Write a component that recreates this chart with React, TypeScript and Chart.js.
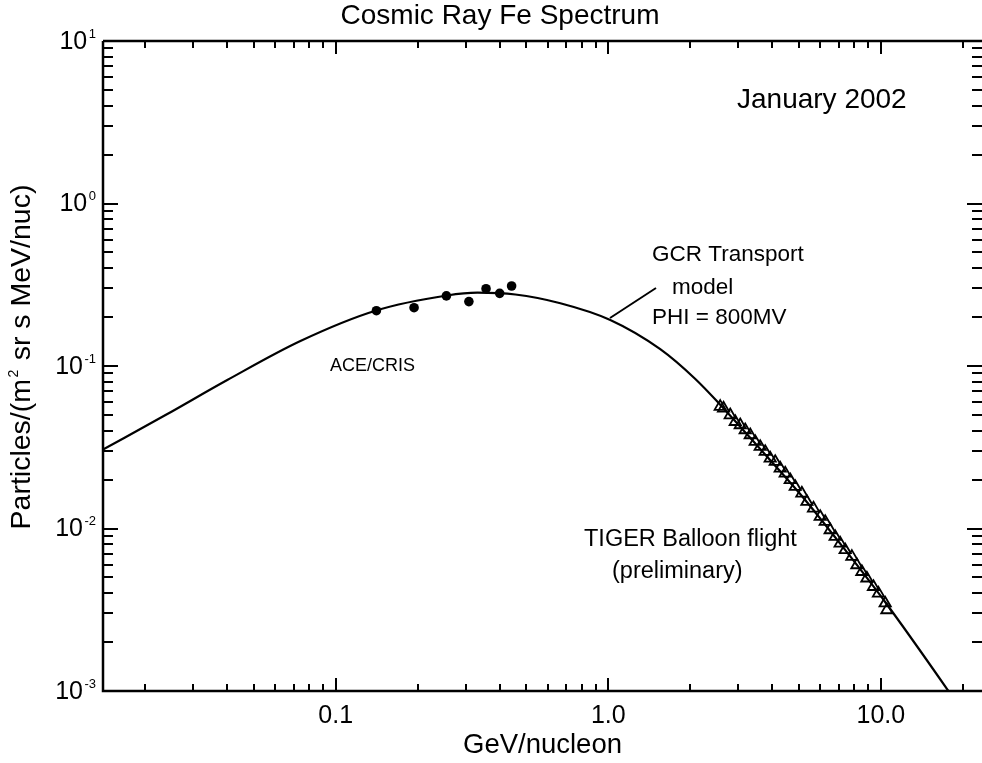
import React, { useEffect, useRef } from "react";
import { Chart, registerables } from "chart.js";
Chart.register(...registerables);

// GCR transport model curve (GeV/nucleon, particles/(m^2 sr s MeV/nuc))
const modelEnergy = [0.01405, 0.02374, 0.04, 0.0742, 0.1398, 0.256, 0.331, 0.456, 0.667, 1.017, 1.551, 2.086, 2.574, 3.608, 5.058, 7.396, 10.37, 17.7, 23.5];
const modelFlux = [0.0307, 0.0499, 0.082, 0.1425, 0.2188, 0.2716, 0.2825, 0.2754, 0.2433, 0.1919, 0.1269, 0.0832, 0.0578, 0.03084, 0.01631, 0.00738, 0.00353, 0.001, 0.0005];

// ACE/CRIS points
const aceEnergy = [0.141, 0.1938, 0.2547, 0.308, 0.356, 0.3995, 0.4418];
const aceFlux = [0.219, 0.2285, 0.27, 0.249, 0.299, 0.28, 0.3107];

// TIGER balloon flight (preliminary)
const tigerEnergy = [2.574, 2.647, 2.801, 2.922, 3.048, 3.179, 3.317, 3.459, 3.608, 3.764, 3.926, 4.096, 4.272, 4.457, 4.65, 4.851, 5.13, 5.353, 5.66, 5.99, 6.248, 6.516, 6.797, 7.09, 7.396, 7.828, 8.166, 8.516, 8.884, 9.393, 9.8, 10.37, 10.52];
const tigerFlux = [0.0562, 0.0549, 0.0499, 0.0454, 0.04335, 0.04038, 0.03762, 0.0342, 0.03187, 0.0297, 0.02704, 0.02577, 0.02347, 0.02186, 0.01989, 0.01808, 0.01647, 0.01462, 0.01331, 0.01182, 0.01101, 0.00979, 0.0089, 0.00811, 0.00738, 0.00671, 0.00596, 0.00542, 0.00494, 0.00438, 0.00399, 0.00347, 0.00315];

// Axes
const xMin = 0.014;
const xMax = 23.5;
const yMin = 0.001;
const yMax = 10;
const xTickValues = [0.1, 1, 10];
const xTickLabels = ["0.1", "1.0", "10.0"];
const yTickValues = [10, 1, 0.1, 0.01, 0.001];
const yTickExponents = ["1", "0", "-1", "-2", "-3"];

const FONT = '"Liberation Sans", Arial, Helvetica, sans-serif';

function minorValues(min: number, max: number): number[] {
  const out: number[] = [];
  for (let e = -3; e <= 2; e++) {
    for (let k = 2; k <= 9; k++) {
      const v = k * Math.pow(10, e);
      if (v > min && v < max) out.push(v);
    }
  }
  return out;
}

const idlPlugin = {
  id: "idlFrame",
  afterDraw(chart: any) {
    const { ctx, chartArea: a, scales } = chart;
    const xs = scales.x;
    const ys = scales.y;
    ctx.save();
    ctx.strokeStyle = "#000";
    ctx.fillStyle = "#000";
    ctx.lineCap = "butt";

    // frame
    ctx.lineWidth = 2.5;
    ctx.beginPath();
    ctx.moveTo(a.left, a.top);
    ctx.lineTo(a.left, a.bottom);
    ctx.lineTo(a.right + 2, a.bottom);
    ctx.moveTo(a.left, a.top);
    ctx.lineTo(a.right + 2, a.top);
    ctx.stroke();

    // ticks
    ctx.lineWidth = 2;
    const xMajLen = 13, xMinLen = 7, yMajLen = 15, yMinLen = 10;
    ctx.beginPath();
    for (const v of xTickValues) {
      const px = Math.round(xs.getPixelForValue(v));
      ctx.moveTo(px, a.bottom); ctx.lineTo(px, a.bottom - xMajLen);
      ctx.moveTo(px, a.top); ctx.lineTo(px, a.top + xMajLen);
    }
    for (const v of minorValues(xMin, xMax)) {
      const px = Math.round(xs.getPixelForValue(v));
      ctx.moveTo(px, a.bottom); ctx.lineTo(px, a.bottom - xMinLen);
      ctx.moveTo(px, a.top); ctx.lineTo(px, a.top + xMinLen);
    }
    for (const v of yTickValues) {
      const py = Math.round(ys.getPixelForValue(v));
      ctx.moveTo(a.left, py); ctx.lineTo(a.left + yMajLen, py);
      ctx.moveTo(a.right, py); ctx.lineTo(a.right - yMajLen, py);
    }
    for (const v of minorValues(yMin, yMax)) {
      const py = Math.round(ys.getPixelForValue(v));
      ctx.moveTo(a.left, py); ctx.lineTo(a.left + yMinLen, py);
      ctx.moveTo(a.right, py); ctx.lineTo(a.right - yMinLen, py);
    }
    ctx.stroke();

    // x tick labels
    ctx.font = `25px ${FONT}`;
    ctx.textAlign = "center";
    ctx.textBaseline = "middle";
    xTickValues.forEach((v, i) => {
      ctx.fillText(xTickLabels[i], xs.getPixelForValue(v), a.bottom + 25);
    });

    // y tick labels 10^n
    yTickValues.forEach((v, i) => {
      const py = ys.getPixelForValue(v);
      ctx.font = `13px ${FONT}`;
      const sup = yTickExponents[i];
      const sw = ctx.measureText(sup).width;
      ctx.textAlign = "right";
      ctx.textBaseline = "middle";
      ctx.fillText(sup, 96, py - 7);
      ctx.font = `25px ${FONT}`;
      ctx.fillText("10", 96 - sw - 1.5, py + 1);
    });

    // title
    ctx.font = `28px ${FONT}`;
    ctx.textAlign = "center";
    ctx.textBaseline = "middle";
    ctx.fillText("Cosmic Ray Fe Spectrum", 500, 16);

    // x title
    ctx.font = `27.5px ${FONT}`;
    ctx.fillText("GeV/nucleon", (a.left + a.right) / 2, 745);

    // y title (rotated, with superscript)
    ctx.save();
    ctx.translate(22.5, 357);
    ctx.rotate(-Math.PI / 2);
    const p1 = "Particles/(m";
    const p2 = "2";
    const p3 = " sr s MeV/nuc)";
    ctx.font = `28.5px ${FONT}`;
    const w1 = ctx.measureText(p1).width;
    const w3 = ctx.measureText(p3).width;
    ctx.font = `14px ${FONT}`;
    const w2 = ctx.measureText(p2).width + 3;
    const total = w1 + w2 + w3;
    const x0 = -total / 2;
    ctx.textAlign = "left";
    ctx.textBaseline = "middle";
    ctx.font = `28.5px ${FONT}`;
    ctx.fillText(p1, x0, 0);
    ctx.font = `14px ${FONT}`;
    ctx.fillText(p2, x0 + w1 + 1.5, -8);
    ctx.font = `28.5px ${FONT}`;
    ctx.fillText(p3, x0 + w1 + w2, 0);
    ctx.restore();

    // annotations
    ctx.textAlign = "left";
    ctx.textBaseline = "middle";
    ctx.font = `28px ${FONT}`;
    ctx.fillText("January 2002", 737, 100);
    ctx.font = `22.5px ${FONT}`;
    ctx.fillText("GCR Transport", 652, 255);
    ctx.fillText("model", 672, 288);
    ctx.fillText("PHI = 800MV", 652, 318);
    ctx.font = `18px ${FONT}`;
    ctx.fillText("ACE/CRIS", 330, 366);
    ctx.font = `23.5px ${FONT}`;
    ctx.fillText("TIGER Balloon flight", 584, 540);
    ctx.fillText("(preliminary)", 612, 572);

    // pointer line from label to model curve
    ctx.lineWidth = 2;
    ctx.beginPath();
    ctx.moveTo(610, 318);
    ctx.lineTo(656, 288);
    ctx.stroke();

    ctx.restore();
  },
};

export default function App() {
  const canvasRef = useRef<HTMLCanvasElement | null>(null);

  useEffect(() => {
    const canvas = canvasRef.current;
    if (!canvas) return;
    const chart = new Chart(canvas, {
      type: "scatter",
      data: {
        datasets: [
          {
            label: "GCR Transport model",
            data: modelEnergy.map((e, i) => ({ x: e, y: modelFlux[i] })),
            showLine: true,
            borderColor: "#000",
            borderWidth: 2.2,
            pointRadius: 0,
            cubicInterpolationMode: "monotone",
            fill: false,
          },
          {
            label: "ACE/CRIS",
            data: aceEnergy.map((e, i) => ({ x: e, y: aceFlux[i] })),
            pointStyle: "circle",
            pointRadius: 4.8,
            backgroundColor: "#000",
            borderColor: "#000",
            borderWidth: 0,
          },
          {
            label: "TIGER",
            data: tigerEnergy.map((e, i) => ({ x: e, y: tigerFlux[i] })),
            pointStyle: "triangle",
            pointRadius: 6.5,
            backgroundColor: "rgba(0,0,0,0)",
            borderColor: "#000",
            borderWidth: 1.8,
          },
        ],
      },
      options: {
        animation: false,
        responsive: false,
        devicePixelRatio: 1,
        layout: { autoPadding: false, padding: { left: 103, top: 41, right: 0, bottom: 72 } },
        plugins: { legend: { display: false }, tooltip: { enabled: false }, title: { display: false } },
        scales: {
          x: { type: "logarithmic", min: xMin, max: xMax, display: false },
          y: { type: "logarithmic", min: yMin, max: yMax, display: false },
        },
      },
      plugins: [idlPlugin],
    } as any);
    return () => chart.destroy();
  }, []);

  return (
    <div style={{ position: "fixed", left: 0, top: 0, width: 982, height: 763, background: "#fff" }}>
      <canvas ref={canvasRef} width={982} height={763} style={{ display: "block" }} />
    </div>
  );
}
